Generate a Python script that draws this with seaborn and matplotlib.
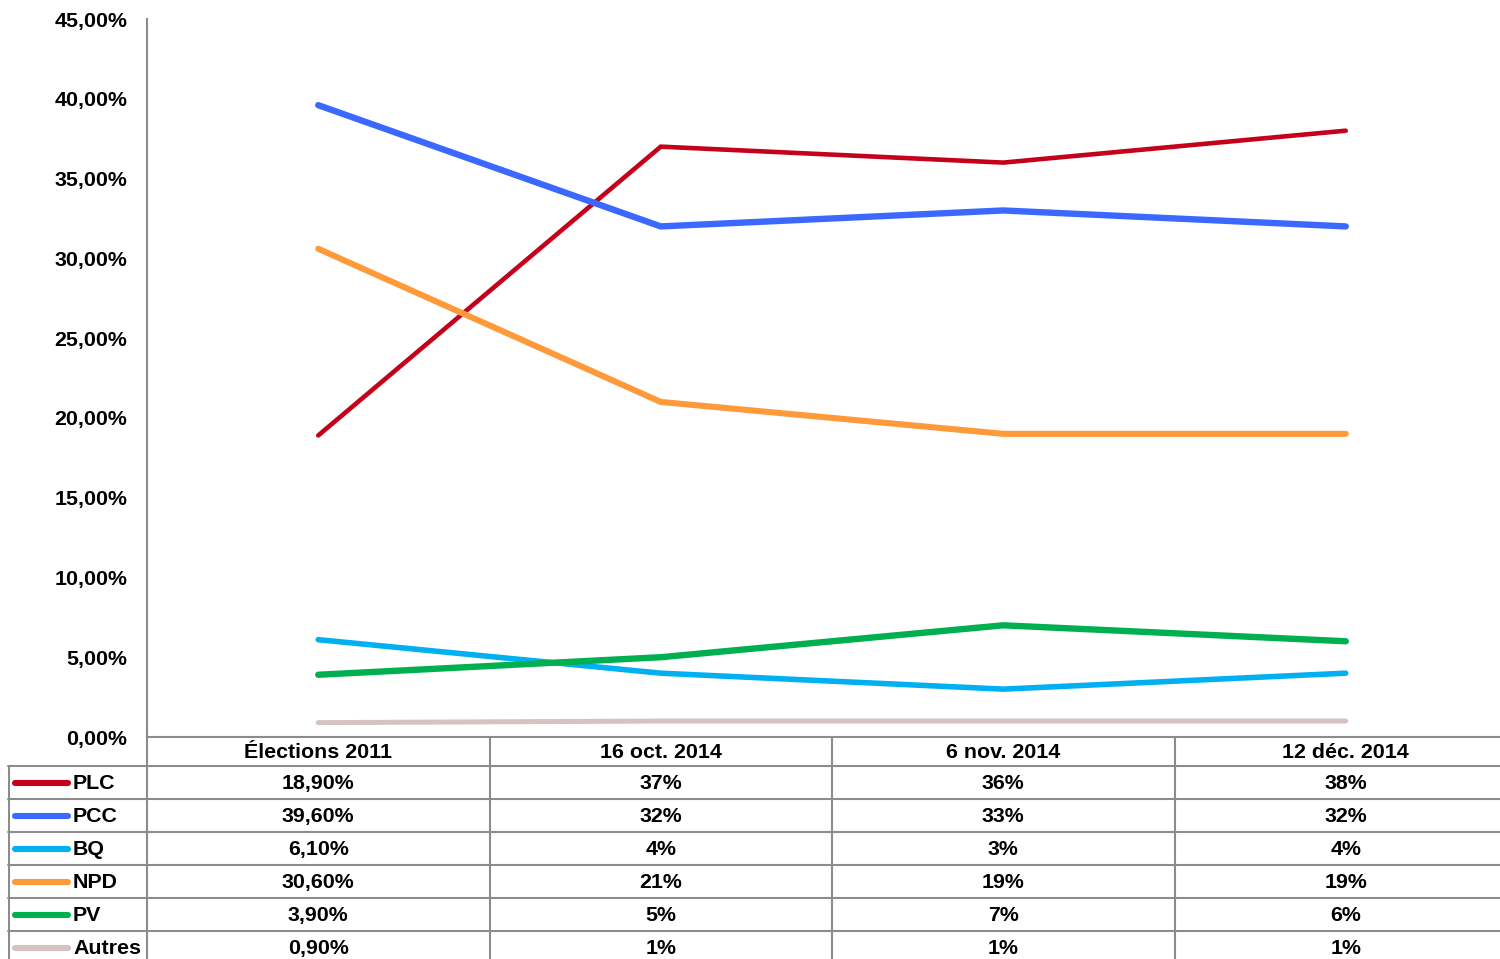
import pandas as pd
import numpy as np
import seaborn as sns
import matplotlib
matplotlib.use("Agg")
import matplotlib.pyplot as plt
from matplotlib.ticker import FuncFormatter

# data
dates = ["Élections 2011", "16 oct. 2014", "6 nov. 2014", "12 déc. 2014"]
parties = ["PLC", "PCC", "BQ", "NPD", "PV", "Autres"]
plc = [18.9, 37, 36, 38]
pcc = [39.6, 32, 33, 32]
bq = [6.1, 4, 3, 4]
npd = [30.6, 21, 19, 19]
pv = [3.9, 5, 7, 6]
autres = [0.9, 1, 1, 1]
table_text = [
    ["18,90%", "37%", "36%", "38%"],
    ["39,60%", "32%", "33%", "32%"],
    ["6,10%", "4%", "3%", "4%"],
    ["30,60%", "21%", "19%", "19%"],
    ["3,90%", "5%", "7%", "6%"],
    ["0,90%", "1%", "1%", "1%"],
]

colors = {"PLC": "#C4001A", "PCC": "#3B68FF", "BQ": "#00B0F0",
          "NPD": "#FF9A3A", "PV": "#00B050", "Autres": "#D6C2C2"}
widths = {"PLC": 3.3, "PCC": 4.6, "BQ": 4.0, "NPD": 4.4, "PV": 4.6, "Autres": 3.6}

values = [plc, pcc, bq, npd, pv, autres]
df = pd.DataFrame({
    "party": np.repeat(parties, len(dates)),
    "x": list(range(len(dates))) * len(parties),
    "value": np.concatenate(values),
})

sns.set_theme(style="white")
plt.rcParams["font.family"] = ["Liberation Sans", "DejaVu Sans"]
plt.rcParams["font.weight"] = "bold"
plt.rcParams["text.color"] = "black"
plt.rcParams["ytick.color"] = "black"
plt.rcParams["ytick.labelcolor"] = "black"

W, H = 1500, 959
fs = 15.4
fig = plt.figure(figsize=(W / 100, H / 100), dpi=100)
grid = "#8c8c8c"

# main axes: 0 % at y=737px, 45 % at y=19px; categories are 342.5 px apart from x=147
left_px, right_px = 147, 147 + 4 * 342.5
ax = fig.add_axes([left_px / W, 1 - 737 / H, (right_px - left_px) / W, (737 - 19) / H])
for p in parties:
    sub = df[df.party == p]
    sns.lineplot(data=sub, x="x", y="value", ax=ax, color=colors[p],
                 linewidth=widths[p], solid_capstyle="round",
                 solid_joinstyle="miter" if p == "PLC" else "round", legend=False)
ax.set_xlim(-0.5, 3.5)
ax.set_ylim(0, 45)
ax.set_yticks(np.arange(0, 46, 5))
ax.yaxis.set_major_formatter(FuncFormatter(lambda v, _: f"{v:.2f}".replace(".", ",") + "%"))
ax.set_xticks([])
ax.set_xlabel("")
ax.set_ylabel("")
ax.tick_params(axis="y", length=0, pad=14, labelsize=fs, labelcolor="black")
for lab in ax.get_yticklabels():
    lab.set_fontweight("bold")
for s in ["top", "right"]:
    ax.spines[s].set_visible(False)
for s in ["left", "bottom"]:
    ax.spines[s].set_color(grid)
    ax.spines[s].set_linewidth(1.5)

# data table under the plot
tleft_px = 8
row_h = 33.0
tax = fig.add_axes([tleft_px / W, 0, (right_px - tleft_px) / W, (H - 737) / H])
x0 = -0.5 - (left_px - tleft_px) / 342.5
tax.set_xlim(x0, 3.5)
tax.set_ylim((H - 737) / row_h, 0)
tax.axis("off")
hdr = 29 / row_h
n = len(parties)
lw = 1.5
# horizontal rules
for k in range(n):
    tax.plot([x0, 3.5], [hdr + k, hdr + k], color=grid, lw=lw, clip_on=False)
# vertical rules
tax.plot([x0 + 0.002, x0 + 0.002], [hdr, 7], color=grid, lw=lw)
for c in range(len(dates)):
    tax.plot([c - 0.5, c - 0.5], [0, 7], color=grid, lw=lw)
# header
for c, d in enumerate(dates):
    tax.text(c, 16 / row_h, d, ha="center", va="center", fontsize=fs, fontweight="bold",
             color="black")
# rows
for r, p in enumerate(parties):
    yc = hdr + r + 0.53
    tax.plot([x0 + 7 / 342.5, x0 + 60 / 342.5], [yc, yc], color=colors[p], lw=4.4,
             solid_capstyle="round")
    tax.text(x0 + 65 / 342.5, yc, p, ha="left", va="center", fontsize=fs,
             fontweight="bold", color="black")
    for c in range(len(dates)):
        tax.text(c, yc, table_text[r][c], ha="center", va="center", fontsize=fs,
                 fontweight="bold", color="black")

fig.savefig("out.png", dpi=100)
